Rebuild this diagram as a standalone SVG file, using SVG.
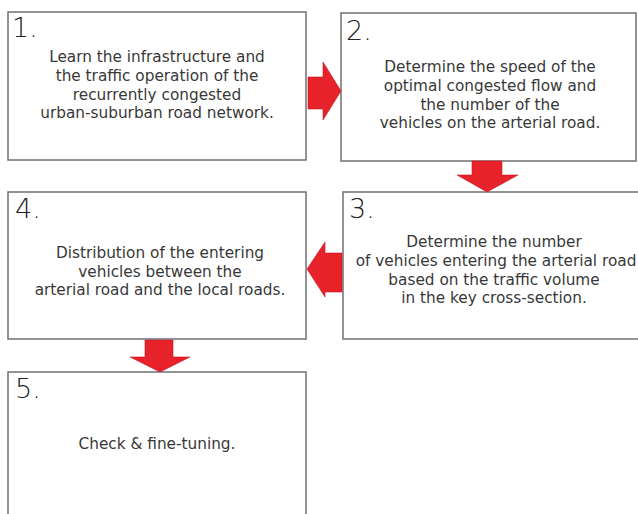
<svg xmlns="http://www.w3.org/2000/svg" width="638" height="514" viewBox="0 0 638 514">
<style>
.box{fill:#fff;stroke:#707070;stroke-width:1.5}
.num{font-family:"DejaVu Sans","Liberation Sans",sans-serif;font-size:27px;font-weight:200;fill:#222}
.txt{font-family:"DejaVu Sans","Liberation Sans",sans-serif;font-size:15.3px;fill:#383838;text-anchor:middle}
.arr{fill:#e8222b;stroke:#c81820;stroke-width:0.6}
</style>
<rect width="638" height="514" fill="#fff"/>
<g id="node1">
<rect class="box" x="8" y="12" width="298" height="148"/>
<text class="num" x="12" y="37">1.</text>
<text class="txt"><tspan x="157" y="62">Learn the infrastructure and</tspan><tspan x="157" y="81">the traffic operation of the</tspan><tspan x="157" y="100">recurrently congested</tspan><tspan x="157" y="118">urban-suburban road network.</tspan></text>
</g>
<g id="node2">
<rect class="box" x="341" y="13" width="295" height="148"/>
<text class="num" x="346" y="40">2.</text>
<text class="txt"><tspan x="490" y="72">Determine the speed of the</tspan><tspan x="490" y="91">optimal congested flow and</tspan><tspan x="490" y="110">the number of the</tspan><tspan x="490" y="128">vehicles on the arterial road.</tspan></text>
</g>
<g id="node3">
<rect class="box" x="343" y="192" width="310" height="147"/>
<text class="num" x="349" y="218">3.</text>
<text class="txt"><tspan x="494" y="247">Determine the number</tspan><tspan x="496" y="266">of vehicles entering the arterial road</tspan><tspan x="494" y="285">based on the traffic volume</tspan><tspan x="494" y="303">in the key cross-section.</tspan></text>
</g>
<g id="node4">
<rect class="box" x="8" y="192" width="298" height="147"/>
<text class="num" x="15" y="218">4.</text>
<text class="txt"><tspan x="160" y="258">Distribution of the entering</tspan><tspan x="160" y="277">vehicles between the</tspan><tspan x="160" y="295">arterial road and the local roads.</tspan></text>
</g>
<g id="node5">
<rect class="box" x="8" y="372" width="298" height="150"/>
<text class="num" x="15" y="398">5.</text>
<text class="txt" x="157" y="449">Check &amp; fine-tuning.</text>
</g>
<g id="connectors">
<polygon class="arr" points="308,77 323,77 323,62 341,91 323,120 323,109 308,109"/>
<polygon class="arr" points="472,161 502,161 502,175 518,175 487,192 457,175 472,175"/>
<polygon class="arr" points="342,253 325,253 325,242 307,269 325,297 325,292 342,292"/>
<polygon class="arr" points="145,340 173,340 173,357 190,357 160,372 130,357 145,357"/>
</g>
</svg>
